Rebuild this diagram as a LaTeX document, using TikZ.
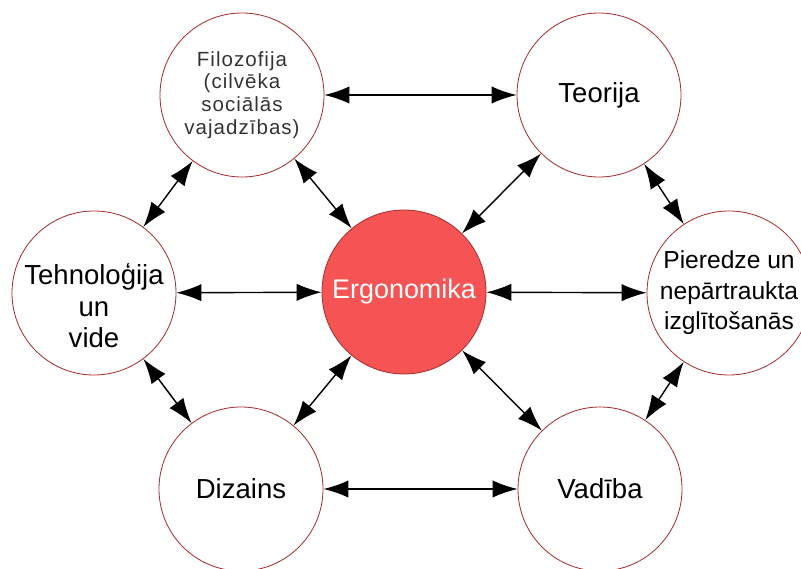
\documentclass[tikz,border=0pt]{standalone}
\usepackage{fontspec}
\setmainfont{Liberation Sans}
\usetikzlibrary{arrows.meta}

\definecolor{rim}{RGB}{165,45,45}
\definecolor{ergored}{RGB}{246,84,84}

\tikzset{
  topic/.style={circle, draw=rim, line width=0.7pt, minimum size=4.92cm,
    inner sep=0pt, align=center, font=\fontsize{23.5}{27}\selectfont},
  small/.style={font=\fontsize{17.5}{19.5}\selectfont\addfontfeature{LetterSpace=5}, text=black!80},
  link/.style={arrows={Latex[length=7.5mm,width=5.2mm]-Latex[length=7.5mm,width=5.2mm]}, line width=1.2pt}
}

\begin{document}
\begin{tikzpicture}[x=0.03cm, y=-0.03cm]
\useasboundingbox (0,0) rectangle (801,569);

%% circles
\node[topic, small] (filo) at (242,95) {Filozofija\\(cilvēka\\sociālās\\vajadzības)};
\node[topic] (teor) at (599,95)  {Teorija};
\node[topic, label={[align=center, inner sep=0pt, yshift=-11pt,
    font=\fontsize{23.5}{27}\selectfont]center:Tehnoloģija\\un\\vide}] (tehn) at (94,293) {};
\node[topic, font=\fontsize{23}{27}\selectfont, fill=ergored, text=white] (ergo) at (404,292) {Ergonomika};
\node[topic, font=\fontsize{21}{26}\selectfont] (pier) at (729,293) {Pieredze un\\nepārtraukta\\izglītošanās};
\node[topic] (diz)  at (241,489) {Dizains};
\node[topic] (vad)  at (600,489) {Vadība};

%% arrows
\draw[link] (filo) -- (teor);   %% top
\draw[link] (tehn) -- (ergo);   %% middle left
\draw[link] (ergo) -- (pier);   %% middle right
\draw[link] (diz) -- (vad);     %% bottom
\draw[link] (filo) -- (tehn);
\draw[link] (filo) -- (ergo);
\draw[link] (teor) -- (ergo);
\draw[link] (teor) -- (pier);
\draw[link] (tehn) -- (diz);
\draw[link] (ergo) -- (diz);
\draw[link] (ergo) -- (vad);
\draw[link] (pier) -- (vad);
\end{tikzpicture}
\end{document}
